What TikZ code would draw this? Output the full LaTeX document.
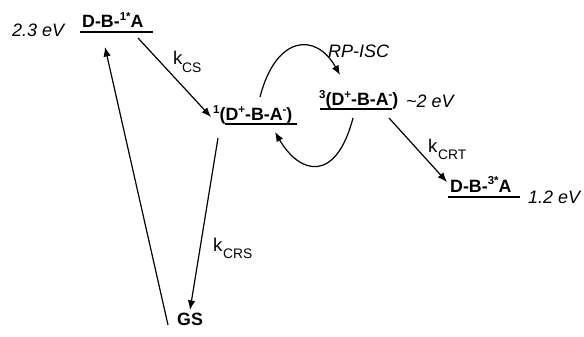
\documentclass[tikz,border=0pt]{standalone}
\usepackage{fontspec}
\setmainfont{Liberation Sans}
\usetikzlibrary{arrows.meta}
\newcommand\supx[1]{\raisebox{0.4em}{\fontsize{11.5}{11.5}\selectfont #1}}
\tikzset{
  lvl/.style={line width=1.1pt},
  arr/.style={line width=1.2pt,-{Latex[length=9.5pt,width=7.5pt]}},
  lab/.style={anchor=base west,inner sep=0pt,font=\fontsize{17.8}{19}\selectfont\bfseries},
  en/.style={anchor=base west,inner sep=0pt,font=\fontsize{18}{20}\selectfont\itshape},
  kk/.style={anchor=base west,inner sep=0pt,font=\fontsize{18.5}{20}\selectfont},
  ksub/.style={anchor=base west,inner sep=0pt,font=\fontsize{13.8}{15}\selectfont}
}
\begin{document}
\begin{tikzpicture}[x=1pt,y=-1pt]
\useasboundingbox (0,0) rectangle (584,337);
% levels
\node[en]  (e1) at (12,37)  {2.3 eV};
\node[lab] (s1) at (82,28)  {D-B-\supx{1*}A};
\draw[lvl] (80,32) coordinate (l1a) -- (153,32) coordinate (l1b);
\node[lab] (rp1) at (213,121) {\supx{1}(D\supx{+}-B-A\supx{-})};
\draw[lvl] (225,124) coordinate (l2a) -- (297,124) coordinate (l2b);
\node[lab] (rp3) at (319,106) {\supx{3}(D\supx{+}-B-A\supx{-})};
\draw[lvl] (320,109) coordinate (l3a) -- (392,109) coordinate (l3b);
\node[en]  (e3) at (406,107) {\textasciitilde2 eV};
\node[lab] (t3) at (450,192) {D-B-\supx{3*}A};
\draw[lvl] (448,197) coordinate (l4a) -- (520,197) coordinate (l4b);
\node[en]  (e4) at (528,203) {1.2 eV};
\node[lab] (gs) at (177,325) {GS};
% rate labels
\node[en] (isc) at (328,58) {RP-ISC};
\node[kk] (kcs) at (173,65) {k};
\node[ksub] (kcss) at (182,73) {CS};
\node[kk] (kcrt) at (428,152) {k};
\node[ksub] (kcrts) at (438,159) {CRT};
\node[kk] (kcrs) at (213,251) {k};
\node[ksub] (kcrss) at (223,258) {CRS};
% arrow end points
\coordinate (csA) at (138,38);  \coordinate (csB) at (211,117);
\coordinate (crsA) at (218,138); \coordinate (crsB) at (190,310);
\coordinate (upA) at (168,325); \coordinate (upB) at (105,47);
\coordinate (iscA) at (260,97); \coordinate (iscB) at (340,75);
\coordinate (bkA) at (353,118); \coordinate (bkB) at (275,132);
\coordinate (crtA) at (389,118); \coordinate (crtB) at (447,182);
\draw[arr] (csA) -- (csB);
\draw[arr] (crsA) -- (crsB);
\draw[arr] (upA) -- (upB);
\draw[arr] (crtA) -- (crtB);
\draw[arr] (iscA) .. controls (276,35) and (316,32) .. (iscB);
\draw[arr] (bkA) .. controls (336,183) and (300,175) .. (bkB);
\end{tikzpicture}
\end{document}
